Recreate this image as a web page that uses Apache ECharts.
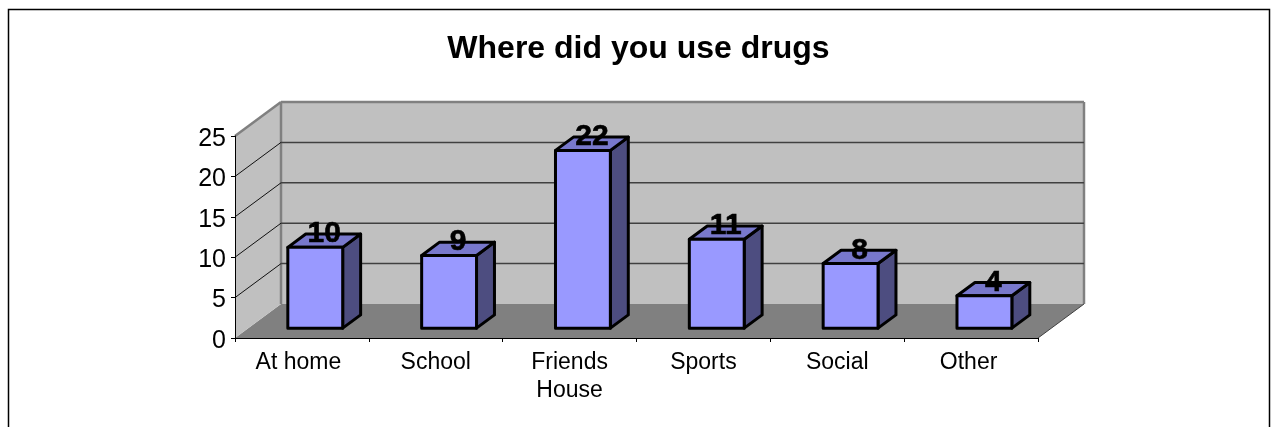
<!DOCTYPE html>
<html><head><meta charset="utf-8">
<style>html,body{margin:0;padding:0;background:#fff}#c{width:1274px;height:427px}</style>
<script src="https://cdn.jsdelivr.net/npm/echarts@6/dist/echarts.min.js"></script>
</head><body><div id="c"></div>
<script>
const titleText = 'Where did you use drugs';
const categories = ['At home', 'School', 'Friends\nHouse', 'Sports', 'Social', 'Other'];
const values = [10, 9, 22, 11, 8, 4];
const gridValues = [5, 10, 15, 20];
const FONT = '"Liberation Sans", Arial, sans-serif';
const DX = 46, DY = -34;              // full depth of the 3D box
const BAR_W = 0.41;                   // fraction of band
const D0 = 0.29, D1 = 0.68;           // front/back depth of bars
const LABEL_NUDGE = {'At home': 7, 'Other': 5};

const chart = echarts.init(document.getElementById('c'), null, {renderer: 'canvas'});

function poly(points, fill, stroke, lw, z2) {
  return {type: 'polygon', z2: z2 || 0, shape: {points},
    style: {fill: fill || 'none', stroke: stroke || 'none', lineWidth: lw || 0, lineJoin: 'round'}};
}
function line(a, b, stroke, lw, z2) {
  return {type: 'line', z2: z2 || 0, shape: {x1: a[0], y1: a[1], x2: b[0], y2: b[1]},
    style: {stroke, lineWidth: lw}};
}

function renderWalls(params, api) {
  const cs = params.coordSys;
  const xl = cs.x, xr = cs.x + cs.width, y0 = api.coord([0, 0])[1], yt = cs.y;
  return {type: 'group', children: [
    poly([[xl, y0], [xl + DX, y0 + DY], [xr + DX, y0 + DY], [xr, y0]], '#808080'),
    poly([[xl, y0], [xl, yt], [xl + DX, yt + DY], [xl + DX, y0 + DY]], '#c0c0c0'),
    poly([[xl + DX, y0 + DY], [xl + DX, yt + DY], [xr + DX, yt + DY], [xr + DX, y0 + DY]], '#c0c0c0'),
    line([xl, yt], [xl + DX, yt + DY], '#808080', 2.5, 3),
    line([xl + DX, yt + DY], [xr + DX, yt + DY], '#808080', 2.5, 3),
    line([xl + DX, yt + DY], [xl + DX, y0 + DY], '#808080', 2.5, 3),
    line([xr + DX, yt + DY], [xr + DX, y0 + DY], '#808080', 2.5, 3),
    line([xr, y0], [xr + DX, y0 + DY], '#404040', 1, 3)
  ]};
}
function renderGrid(params, api) {
  const cs = params.coordSys;
  const xl = cs.x, xr = cs.x + cs.width, y = api.coord([0, api.value(0)])[1];
  return {type: 'group', children: [
    line([xl, y], [xl + DX, y + DY], '#111', 1, 2),
    line([xl + DX, y + DY], [xr + DX, y + DY], '#404040', 1.5, 2)
  ]};
}
function renderBar(params, api) {
  const i = api.value(0), v = api.value(1);
  const band = api.size([1, 0])[0];
  const c = api.coord([i, 0]), t = api.coord([i, v]);
  const xa = c[0] - BAR_W * band / 2 + D0 * DX;
  const xb = xa + BAR_W * band;
  const yb = c[1] + D0 * DY, yt = t[1] + D0 * DY;
  const dx = (D1 - D0) * DX, dy = (D1 - D0) * DY;
  const S = '#000', W = 3;
  return {type: 'group', children: [
    poly([[xb, yb], [xb, yt], [xb + dx, yt + dy], [xb + dx, yb + dy]], '#4d4d80', S, W, 1),
    poly([[xa, yt], [xa + dx, yt + dy], [xb + dx, yt + dy], [xb, yt]], '#7878cc', S, W, 1),
    poly([[xa, yb], [xa, yt], [xb, yt], [xb, yb]], '#9999ff', S, W, 2),
    {type: 'text', z2: 5, style: {
      x: (xa + xb) / 2 + dx / 2, y: yt + dy,
      text: String(v), fill: '#000', stroke: '#000', lineWidth: 0.6, font: 'bold 30px ' + FONT,
      align: 'center', verticalAlign: 'middle'}}
  ]};
}

chart.setOption({
  animation: false,
  backgroundColor: '#fff',
  title: {text: titleText, left: 633.5, top: 28, textAlign: 'center',
    textStyle: {fontFamily: FONT, fontSize: 32, fontWeight: 'bold', color: '#000'}},
  grid: {left: 235, right: 236, top: 136, bottom: 89},
  xAxis: {type: 'category', z: 6,
    data: categories.map(c => LABEL_NUDGE[c]
      ? {value: c, textStyle: {padding: [0, LABEL_NUDGE[c], 0, 0]}} : c),
    axisLine: {show: true, lineStyle: {color: '#000', width: 1}},
    axisTick: {show: true, length: 4, alignWithLabel: false, lineStyle: {color: '#000'}},
    axisLabel: {fontFamily: FONT, fontSize: 23, color: '#000', margin: 11, lineHeight: 28, interval: 0},
    splitLine: {show: false}},
  yAxis: {type: 'value', min: 0, max: 25, interval: 5, z: 6,
    axisLine: {show: true, lineStyle: {color: '#000', width: 1}},
    axisTick: {show: true, length: 4, lineStyle: {color: '#000'}},
    axisLabel: {fontFamily: FONT, fontSize: 25, color: '#000', margin: 9, verticalAlign: 'top', lineHeight: 6},
    splitLine: {show: false}},
  graphic: [{type: 'rect', z: 100, silent: true,
    shape: {x: 8.5, y: 9.5, width: 1261, height: 440},
    style: {fill: 'none', stroke: '#000', lineWidth: 1.5}}],
  series: [
    {type: 'custom', z: 1, silent: true, clip: false, coordinateSystem: 'cartesian2d',
      data: [[0, 0]], renderItem: renderWalls},
    {type: 'custom', z: 2, silent: true, clip: false, coordinateSystem: 'cartesian2d',
      encode: {y: 0}, data: gridValues.map(v => [v]), renderItem: renderGrid},
    {type: 'custom', z: 3, silent: true, clip: false, coordinateSystem: 'cartesian2d',
      encode: {x: 0, y: 1}, data: values.map((v, i) => [i, v]), renderItem: renderBar}
  ]
});
</script></body></html>
